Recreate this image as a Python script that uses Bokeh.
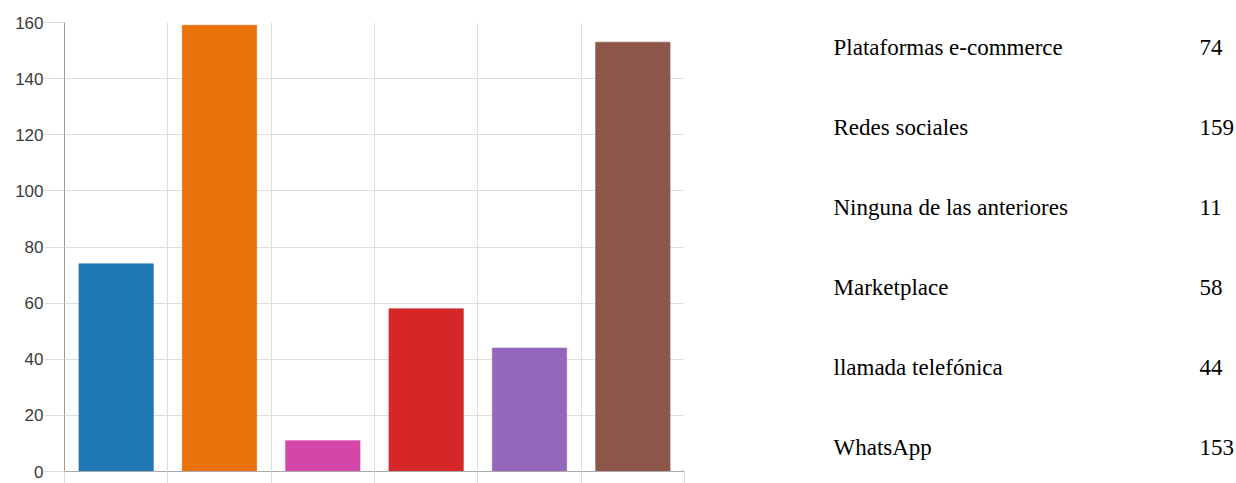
from bokeh.plotting import figure
from bokeh.models import Range1d, FixedTicker, ColumnDataSource, CustomJSTickFormatter
from bokeh.layouts import row
from bokeh.core.properties import value
from bokeh.embed import file_html
from bokeh.resources import INLINE

# ---- data ----
categories = ["Plataformas e-commerce", "Redes sociales", "Ninguna de las anteriores",
              "Marketplace", "llamada telefónica", "WhatsApp"]
counts = [74, 159, 11, 58, 44, 153]
colors = ["#1f77b4", "#e8710a", "#d446a8", "#d62728", "#9467bd", "#8c564b"]
y_ticks = [0, 20, 40, 60, 80, 100, 120, 140, 160]

# ---- bar chart ----
n = len(categories)
src = ColumnDataSource(dict(x=[i + 0.5 for i in range(n)], top=counts, color=colors,
                            name=categories))

p = figure(width=700, height=483, output_backend="svg", toolbar_location=None,
           x_range=Range1d(0, n), y_range=Range1d(0, 160),
           min_border_left=64, min_border_right=16, min_border_top=22, min_border_bottom=0)
p.outline_line_color = None
p.vbar(x="x", top="top", width=0.72, bottom=0, fill_color="color", line_color="color",
       line_alpha=0.6, source=src)

# y axis
p.yaxis.ticker = FixedTicker(ticks=y_ticks)
p.yaxis.major_tick_out = 20
p.yaxis.major_tick_in = 0
p.yaxis.minor_tick_out = 0
p.yaxis.minor_tick_in = 0
p.yaxis.major_tick_line_color = "#dddddd"
p.yaxis.axis_line_color = "#9a9a9a"
p.yaxis.major_label_standoff = 1
p.yaxis.major_label_text_font = "Liberation Sans"
p.yaxis.major_label_text_font_size = "17px"
p.yaxis.major_label_text_color = "#3a3a3a"

# x axis (ticks only)
p.xaxis.ticker = FixedTicker(ticks=list(range(n + 1)))
p.xaxis.major_tick_out = 12
p.xaxis.major_tick_in = 0
p.xaxis.minor_tick_out = 0
p.xaxis.major_tick_line_color = "#dddddd"
p.xaxis.axis_line_color = "#aaaaaa"
p.xaxis.major_label_text_font_size = "0px"
p.xaxis.major_label_standoff = 0
p.xaxis.formatter = CustomJSTickFormatter(code="return ''")

p.xgrid.ticker = FixedTicker(ticks=list(range(n + 1)))
p.ygrid.ticker = FixedTicker(ticks=y_ticks)
p.xgrid.grid_line_color = "#dedede"
p.ygrid.grid_line_color = "#dedede"

# ---- table of values ----
# frame of this figure is aligned with the chart frame (pixel rows 22..471)
row0, step = 47, 80
t = figure(width=536, height=483, output_backend="svg", toolbar_location=None,
           x_range=Range1d(700, 1236), y_range=Range1d(471, 22),
           min_border=0)
t.axis.visible = False
t.grid.visible = False
t.outline_line_color = None
tsrc = ColumnDataSource(dict(
    y=[row0 + i * step for i in range(n)],
    label=categories,
    val=[str(c) for c in counts],
))
t.text(x=833, y="y", text="label", source=tsrc, text_font=value("Liberation Serif"),
       text_font_size="23px", text_color="#000000", text_baseline="alphabetic",
       text_align="left")
t.text(x=1199, y="y", text="val", source=tsrc, text_font=value("Liberation Serif"),
       text_font_size="23px", text_color="#000000", text_baseline="alphabetic",
       text_align="left")

layout = row(p, t)
open("out.html", "w").write(file_html(layout, INLINE))
